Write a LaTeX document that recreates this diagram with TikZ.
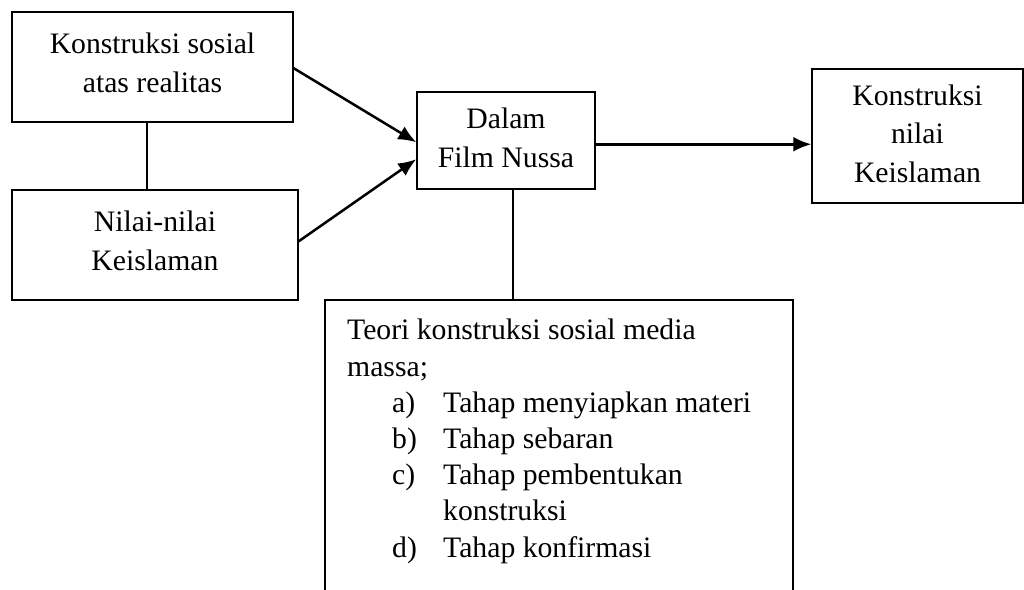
\documentclass[tikz,border=0pt]{standalone}
\usepackage{fontspec}
\setmainfont{Liberation Serif}
\usetikzlibrary{arrows.meta,calc}
\tikzset{
  boxshape/.style={draw=black, line width=1.5pt, rectangle, inner sep=0pt},
  txt/.style={inner sep=0pt, align=center, font=\fontsize{29.7}{38.5}\selectfont},
  txtl/.style={inner sep=0pt, align=left, font=\fontsize{29.7}{36.2}\selectfont},
  arr/.style={line width=2.5pt, -{Latex[length=18pt,width=15pt]}},
  link/.style={line width=1.6pt}
}
\begin{document}
\begin{tikzpicture}[x=1pt,y=-1pt]
\useasboundingbox (0,0) rectangle (1024,589);
\clip (0,0) rectangle (1024,589);
% boxes
\node[boxshape, minimum width=281pt, minimum height=110pt] (A) at (152.5,67) {};
\node[boxshape, minimum width=286pt, minimum height=110pt] (B) at (155,245) {};
\node[boxshape, minimum width=178pt, minimum height=97pt] (C) at (506,140.5) {};
\node[boxshape, minimum width=211pt, minimum height=134pt] (D) at (917.5,136) {};
\node[boxshape, minimum width=468pt, minimum height=340pt] (E) at (559,470) {};
% texts
\node[txt, anchor=base] (At) at (152.5,92) {Konstruksi sosial\\atas realitas};
\node[txt, anchor=base] (Bt) at (155,270) {Nilai-nilai\\Keislaman};
\node[txt, anchor=base] (Ct) at (506,167) {Dalam\\Film Nussa};
\node[txt, anchor=base] (Dt) at (917.5,182) {Konstruksi\\nilai\\Keislaman};
\node[txtl, anchor=base west] (Et) at (347,557) {Teori konstruksi sosial media\\
massa;\\
\hspace*{45pt}\makebox[51pt][l]{a)}Tahap menyiapkan materi\\
\hspace*{45pt}\makebox[51pt][l]{b)}Tahap sebaran\\
\hspace*{45pt}\makebox[51pt][l]{c)}Tahap pembentukan\\
\hspace*{96pt}konstruksi\\
\hspace*{45pt}\makebox[51pt][l]{d)}Tahap konfirmasi};
% connectors
\coordinate (a1) at ($(A.north east)+(0,57)$);
\coordinate (c1) at ($(C.north west)+(0,51)$);
\coordinate (b1) at ($(B.north east)+(0,52)$);
\coordinate (c2) at ($(C.north west)+(0,68)$);
\draw[arr] (a1) -- (c1);
\draw[arr] (b1) -- (c2);
\coordinate (c3) at ($(C.north east)+(0,53)$);
\draw[arr] (c3) -- (c3 -| D.west);
\coordinate (ab) at ($(A.south west)+(136,0)$);
\draw[link] (ab) -- (ab |- B.north);
\coordinate (ce) at ($(C.south west)+(97,0)$);
\draw[link] (ce) -- (ce |- E.north);
\end{tikzpicture}
\end{document}
